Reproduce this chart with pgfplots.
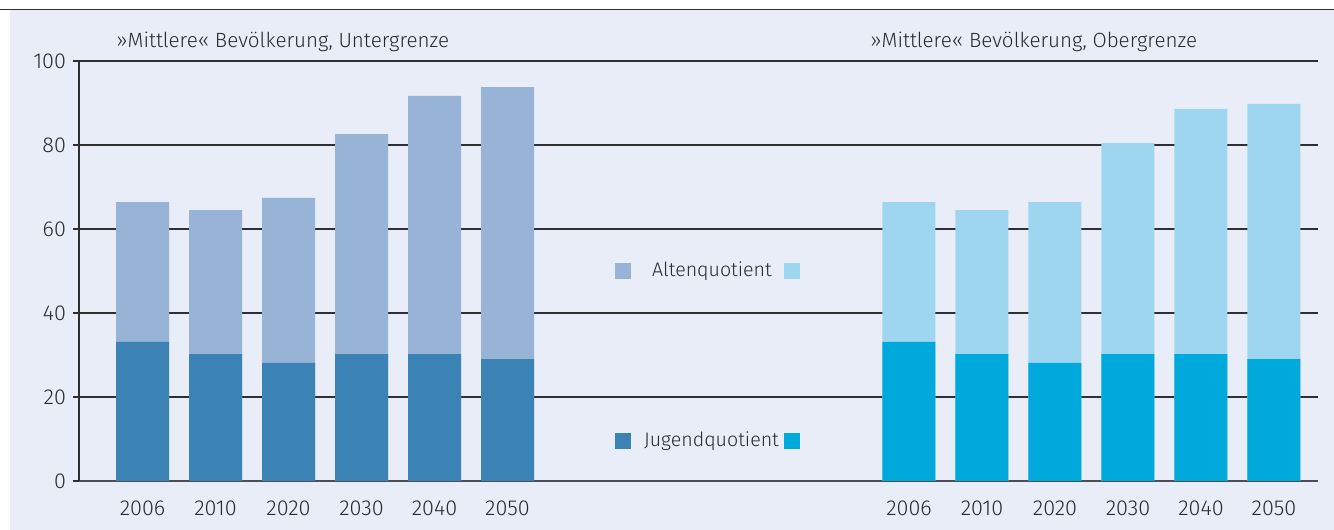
\documentclass[border=0pt]{standalone}
\usepackage{fontspec}
\setmainfont{Fira Sans Light}
\usepackage{pgfplots}
\usepackage{pgfplotstable}
\pgfplotsset{compat=1.18}
\definecolor{bgc}{HTML}{E9EDF7}
\definecolor{lLight}{HTML}{97B4D7}
\definecolor{lDark}{HTML}{3B82B5}
\definecolor{rLight}{HTML}{9ED6EF}
\definecolor{rDark}{HTML}{00A9DB}
\definecolor{txt}{HTML}{2B2B2E}
\definecolor{gridc}{HTML}{2E2E33}
\definecolor{axc}{HTML}{4D4D55}

\pgfplotstableread{
x jung alt
0 33.1 33.3
1 30.2 34.3
2 28.1 39.3
3 30.2 52.4
4 30.2 61.5
5 29.0 64.8
}\untergrenze
\pgfplotstableread{
x jung alt
10.5 33.1 33.3
11.5 30.2 34.3
12.5 28.1 38.3
13.5 30.2 50.3
14.5 30.2 58.4
15.5 29.0 60.8
}\obergrenze

\begin{document}
\begin{tikzpicture}
\useasboundingbox (0,0) rectangle (667pt,265pt);
\fill[bgc] (4.8pt,0) rectangle (667pt,260.2pt);
\draw[gridc, line width=0.75pt] (0,260.2pt) -- (667pt,260.2pt);
\begin{axis}[
  at={(39.5pt,24.5pt)}, anchor=south west,
  scale only axis, width=619.5pt, height=210pt,
  xmin=-0.870, xmax=16.103, ymin=0, ymax=100,
  axis x line=bottom, axis y line=left,
  axis line style={-},
  x axis line style={axc, line width=1pt},
  y axis line style={gridc, line width=0.6pt},
  ymajorgrids, grid style={gridc, line width=0.6pt},
  ytick={0,20,40,60,80,100},
  xtick={0,1,2,3,4,5,10.5,11.5,12.5,13.5,14.5,15.5},
  xticklabels={2006,2010,2020,2030,2040,2050,2006,2010,2020,2030,2040,2050},
  major x tick style={draw=none},
  major y tick style={gridc, line width=0.6pt},
  tick align=outside, major tick length=3pt,
  tick label style={font=\fontsize{10.8}{12}\selectfont, text=txt},
  xticklabel style={yshift=-3.3pt},
  /pgf/number format/assume math mode=true,
  ybar, bar width=0.726, bar shift=0pt,
  clip=false,
]
\addplot[fill=lLight, draw=none] table[x=x, y expr=\thisrow{jung}+\thisrow{alt}] {\untergrenze};
\addplot[fill=lDark, draw=none] table[x=x, y=jung] {\untergrenze};
\addplot[fill=rLight, draw=none] table[x=x, y expr=\thisrow{jung}+\thisrow{alt}] {\obergrenze};
\addplot[fill=rDark, draw=none] table[x=x, y=jung] {\obergrenze};
\node[anchor=base west, text=txt, font=\fontsize{10.3}{12}\selectfont, inner sep=0] at (axis cs:-0.363,103.3) {»Mittlere« Bevölkerung, Untergrenze};
\node[anchor=base west, text=txt, font=\fontsize{10.3}{12}\selectfont, inner sep=0] at (axis cs:9.966,103.3) {»Mittlere« Bevölkerung, Obergrenze};
% legend keys
\node[fill=lLight, minimum size=8pt, inner sep=0] at (axis cs:6.582,50) {};
\node[fill=rLight, minimum size=8pt, inner sep=0] at (axis cs:8.904,50) {};
\node[text=txt, font=\fontsize{9.8}{11}\selectfont] at (axis cs:7.801,50) {Altenquotient};
\node[fill=lDark, minimum size=8pt, inner sep=0] at (axis cs:6.582,9.5) {};
\node[fill=rDark, minimum size=8pt, inner sep=0] at (axis cs:8.904,9.5) {};
\node[text=txt, font=\fontsize{9.8}{11}\selectfont] at (axis cs:7.795,9.5) {Jugendquotient};
\end{axis}
\end{tikzpicture}
\end{document}
